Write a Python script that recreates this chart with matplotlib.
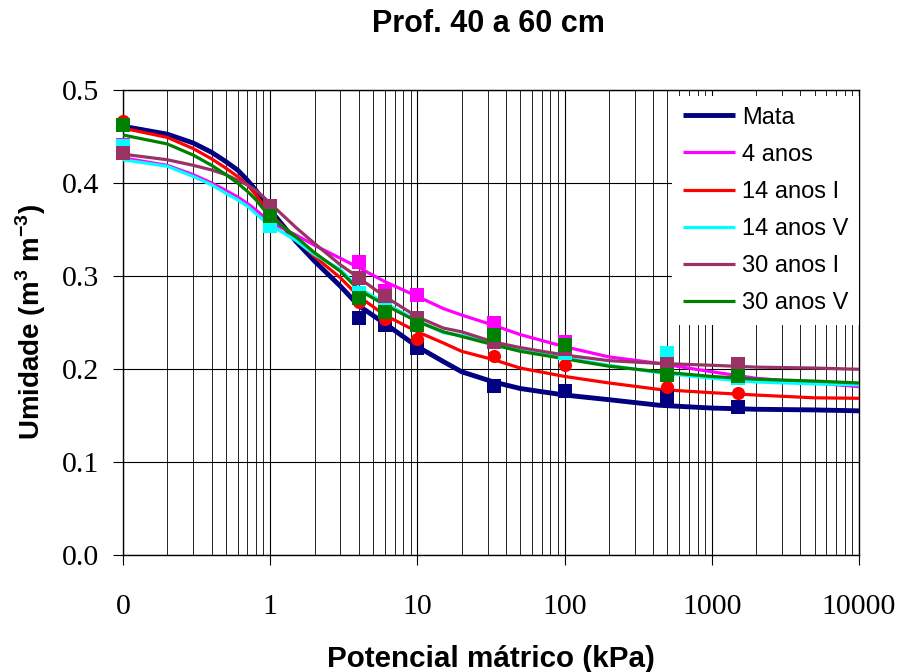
import numpy as np
import matplotlib
matplotlib.use("Agg")
import matplotlib.pyplot as plt
from matplotlib.ticker import FixedLocator, NullFormatter, LogLocator

plt.rcParams['font.family'] = ['Liberation Sans', 'DejaVu Sans']
plt.rcParams['mathtext.fontset'] = 'custom'
plt.rcParams['mathtext.rm'] = 'Liberation Sans:bold'
plt.rcParams['mathtext.bf'] = 'Liberation Sans:bold'

# ---------------- data ----------------
series_names = ["Mata", "4 anos", "14 anos I", "14 anos V", "30 anos I", "30 anos V"]

# measured points (tension in kPa; 0.1 plotted at the "0" position)
x_obs = [0.1, 1, 4, 6, 10, 33, 100, 500, 1500]
obs_mata = [0.462, 0.370, 0.255, 0.247, 0.223, 0.182, 0.176, 0.170, 0.1595]
obs_4 = [0.441, 0.360, 0.315, 0.284, 0.280, 0.249, 0.229, 0.207, 0.198]
obs_14i = [0.467, 0.365, 0.272, 0.254, 0.232, 0.214, 0.204, 0.181, 0.1745]
obs_14v = [0.440, 0.354, 0.282, 0.268, 0.250, 0.232, 0.217, 0.217, 0.190]
obs_30i = [0.432, 0.375, 0.298, 0.278, 0.255, 0.229, 0.222, 0.205, 0.205]
obs_30v = [0.462, 0.364, 0.276, 0.261, 0.247, 0.237, 0.226, 0.194, 0.192]

# fitted retention curves
x_fit = [0.1, 0.2, 0.3, 0.4, 0.5, 0.6, 0.7, 0.8, 0.9, 1, 1.5, 2, 3, 4, 6, 10,
         15, 20, 33, 50, 100, 200, 440, 1000, 2000, 5000, 10000]
fit_mata = [0.461, 0.4525, 0.443, 0.433, 0.423, 0.414, 0.403, 0.392, 0.382, 0.371,
            0.337, 0.316, 0.289, 0.268, 0.249, 0.224, 0.208, 0.197, 0.186, 0.179,
            0.172, 0.167, 0.161, 0.158, 0.1567, 0.156, 0.155]
fit_4 = [0.427, 0.419, 0.409, 0.400, 0.392, 0.385, 0.378, 0.371, 0.364, 0.358,
         0.344, 0.333, 0.319, 0.309, 0.294, 0.278, 0.265, 0.258, 0.247, 0.237,
         0.224, 0.213, 0.206, 0.197, 0.190, 0.185, 0.181]
fit_14i = [0.459, 0.449, 0.437, 0.426, 0.416, 0.407, 0.398, 0.387, 0.376, 0.367,
           0.339, 0.321, 0.298, 0.278, 0.258, 0.240, 0.228, 0.219, 0.210, 0.201,
           0.192, 0.185, 0.178, 0.1745, 0.172, 0.169, 0.1685]
fit_14v = [0.425, 0.418, 0.407, 0.398, 0.389, 0.382, 0.375, 0.367, 0.360, 0.355,
           0.338, 0.323, 0.307, 0.287, 0.271, 0.252, 0.239, 0.236, 0.227, 0.220,
           0.212, 0.204, 0.196, 0.190, 0.186, 0.184, 0.183]
fit_30i = [0.431, 0.425, 0.419, 0.414, 0.409, 0.403, 0.398, 0.392, 0.385, 0.378,
           0.352, 0.335, 0.312, 0.298, 0.278, 0.256, 0.244, 0.240, 0.229, 0.223,
           0.215, 0.209, 0.206, 0.204, 0.202, 0.201, 0.1997]
fit_30v = [0.4516, 0.442, 0.430, 0.419, 0.409, 0.400, 0.391, 0.382, 0.372, 0.364,
           0.342, 0.325, 0.305, 0.285, 0.269, 0.251, 0.240, 0.235, 0.226, 0.219,
           0.211, 0.203, 0.197, 0.192, 0.189, 0.187, 0.185]

x_ticks = [0.1, 1, 10, 100, 1000, 10000]
x_tick_labels = ["0", "1", "10", "100", "1000", "10000"]
y_ticks = [0.0, 0.1, 0.2, 0.3, 0.4, 0.5]
y_tick_labels = ["0.0", "0.1", "0.2", "0.3", "0.4", "0.5"]

colors = ["#000080", "#FF00FF", "#FF0000", "#00FFFF", "#993366", "#008000"]
markers = ["s", "s", "o", "s", "s", "s"]
lws = [3.5, 2.3, 2.3, 2.3, 2.3, 2.3]
fits = [fit_mata, fit_4, fit_14i, fit_14v, fit_30i, fit_30v]
obss = [obs_mata, obs_4, obs_14i, obs_14v, obs_30i, obs_30v]

# ---------------- figure ----------------
fig = plt.figure(figsize=(9.02, 6.72), dpi=100)
ax = fig.add_axes([123/902, 1-555/672, (859-123)/902, (555-90)/672])

ax.set_xscale('log')
ax.set_xlim(0.1, 10000)
ax.set_ylim(0, 0.5)

ax.xaxis.set_major_locator(FixedLocator(x_ticks))
ax.xaxis.set_minor_locator(LogLocator(base=10, subs=np.arange(2, 10)))
ax.xaxis.set_minor_formatter(NullFormatter())
ax.set_xticks(x_ticks)
ax.set_xticklabels(x_tick_labels)
ax.set_yticks(y_ticks)
ax.set_yticklabels(y_tick_labels)
ax.grid(True, which='major', axis='both', color='black', linewidth=0.8)
ax.grid(True, which='minor', axis='x', color='#222222', linewidth=0.7)
ax.set_axisbelow(True)

for name, c, lw, f in zip(series_names, colors, lws, fits):
    ax.plot(x_fit, f, color=c, lw=lw, label=name, zorder=3,
            solid_joinstyle='round', solid_capstyle='butt')

for c, m, o in zip(colors, markers, obss):
    ax.plot(x_obs, o, linestyle='none', marker=m, markersize=9.5,
            markerfacecolor=c, markeredgewidth=0, zorder=4, clip_on=False)

ax.tick_params(axis='both', which='major', direction='out', length=7.2,
               width=0.8, labelsize=21.5)
ax.tick_params(axis='x', which='major', pad=21)
ax.tick_params(axis='y', which='major', pad=10)
ax.tick_params(axis='x', which='minor', length=0)
for lab in ax.get_xticklabels() + ax.get_yticklabels():
    lab.set_fontfamily('Liberation Serif')

for s in ax.spines.values():
    s.set_linewidth(1.0)
    s.set_color('black')

leg = ax.legend(loc='upper right', bbox_to_anchor=(1.0, 1 - 6/465),
                borderaxespad=0, frameon=True, fancybox=False,
                framealpha=1, facecolor='white', edgecolor='none',
                fontsize=17, handlelength=2.2, handletextpad=0.3,
                labelspacing=0.64, borderpad=0.45)
leg.set_zorder(5)

fig.text(488/902, 1-31.7/672, "Prof. 40 a 60 cm", ha='center', va='baseline',
         fontsize=22, fontweight='bold')
fig.text(491/902, 1-667/672, "Potencial mátrico (kPa)", ha='center',
         va='baseline', fontsize=21.3, fontweight='bold')
fig.text(31/902, 1-322/672, r"Umidade (m$^{3}$ m$^{-3}$)", ha='center',
         va='center', rotation=90, fontsize=20, fontweight='bold')

fig.savefig("out.png", dpi=100)
